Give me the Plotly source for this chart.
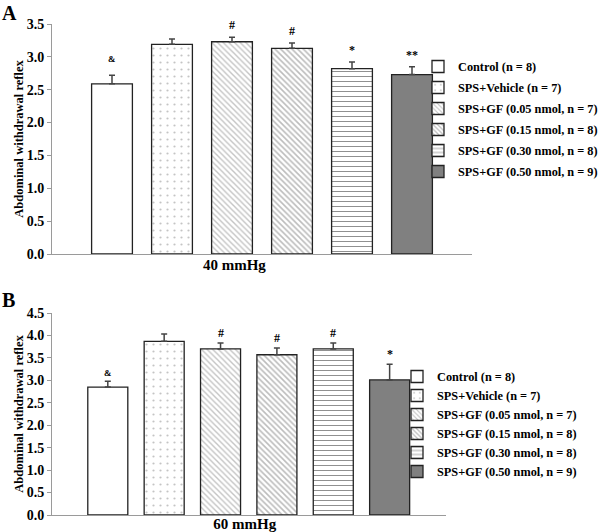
import plotly.graph_objects as go

groups = ["Control (n = 8)", "SPS+Vehicle (n = 7)", "SPS+GF (0.05 nmol, n = 7)",
          "SPS+GF (0.15 nmol, n = 8)", "SPS+GF (0.30 nmol, n = 8)", "SPS+GF (0.50 nmol, n = 9)"]
mean_40 = [2.59, 3.19, 3.23, 3.13, 2.82, 2.73]
sem_40 = [0.13, 0.08, 0.07, 0.08, 0.10, 0.12]
sig_40 = ["&", "", "#", "#", "*", "**"]
mean_60 = [2.85, 3.87, 3.70, 3.57, 3.70, 3.01]
sem_60 = [0.13, 0.16, 0.13, 0.15, 0.13, 0.35]
sig_60 = ["&", "", "#", "#", "#", "*"]
ytick_40 = [0, 0.5, 1.0, 1.5, 2.0, 2.5, 3.0, 3.5]
ytick_60 = [0, 0.5, 1.0, 1.5, 2.0, 2.5, 3.0, 3.5, 4.0, 4.5]
pressure_labels = ["40 mmHg", "60 mmHg"]

FONT = "Liberation Serif"
styles = [
    dict(color="white", pattern=dict(shape="")),
    dict(color="white", pattern=dict(shape=".", fgcolor="#8a8a8a", size=7, solidity=0.08)),
    dict(color="white", pattern=dict(shape="\\", fgcolor="#8a8a8a", size=4, solidity=0.35)),
    dict(color="white", pattern=dict(shape="\\", fgcolor="#7a7a7a", size=4, solidity=0.4)),
    dict(color="white", pattern=dict(shape="-", fgcolor="#222222", size=5, solidity=0.2)),
    dict(color="#808080", pattern=dict(shape="")),
]

fig = go.Figure()
for panel, (means, sems, sigs, ax, leg, w, ysh) in enumerate([
        (mean_40, sem_40, sig_40, ("x", "y"), "legend", 0.68, 3),
        (mean_60, sem_60, sig_60, ("x2", "y2"), "legend2", 0.71, 1)]):
    for i, g in enumerate(groups):
        fig.add_trace(go.Bar(
            x=[i], y=[means[i]], width=w, name=g, xaxis=ax[0], yaxis=ax[1],
            legend=leg, legendgroup=f"{leg}{i}",
            marker=dict(color=styles[i]["color"], pattern=styles[i]["pattern"],
                        line=dict(color="#222222", width=1.3)),
            error_y=dict(type="data", array=[sems[i]], arrayminus=[0], symmetric=False,
                         color="#444444", thickness=1.5, width=3),
        ))
        if sigs[i]:
            fig.add_annotation(x=i, y=means[i] + sems[i], xref=ax[0], yref=ax[1],
                               text=sigs[i], showarrow=False, yanchor="bottom",
                               yshift=ysh + (6 if (sigs[i] == "&" and panel == 0) else 0),
                               font=dict(family=FONT, size=12 if sigs[i] != "&" else 9,
                                         color="black"))

xaxis_common = dict(showline=True, linecolor="#9a9a9a", linewidth=1, zeroline=False,
                    showgrid=False, ticks="", ticklen=0, automargin=False,
                    tickfont=dict(family=FONT, size=15, color="black", weight="bold"))
yaxis_common = dict(showline=True, linecolor="#9a9a9a", linewidth=1, showgrid=False, zeroline=False,
                    ticks="outside", ticklen=4, tickcolor="#9a9a9a", tickformat=".1f", automargin=False,
                    tickfont=dict(family=FONT, size=14, color="black", weight="bold"),
                    title=dict(text="Abdominal withdrawal reflex", standoff=0,
                               font=dict(family=FONT, size=12.5, color="black", weight="bold")))
legend_font = dict(family=FONT, size=12.3, color="black", weight="bold")
fig.update_layout(
    width=600, height=532, margin=dict(l=0, r=0, t=0, b=0, autoexpand=False),
    plot_bgcolor="white", paper_bgcolor="white",
    font=dict(family=FONT, color="black", weight="bold"),
    barmode="overlay",
    xaxis=dict(domain=[52/600, 472/600], range=[-1.0, 6.0], anchor="y", ticklabelstandoff=-3,
               tickvals=[2.04], ticktext=[pressure_labels[0]], **xaxis_common),
    yaxis=dict(domain=[1-254/532, 1-24/532], range=[0, 3.5], anchor="x",
               tickvals=ytick_40, **yaxis_common),
    xaxis2=dict(domain=[52/600, 446/600], range=[-0.99, 6.0], anchor="y2", ticklabelstandoff=-5,
                tickvals=[2.43], ticktext=[pressure_labels[1]], **xaxis_common),
    yaxis2=dict(domain=[1-515/532, 1-313/532], range=[0, 4.5], anchor="x2",
                tickvals=ytick_60, **yaxis_common),
    legend=dict(x=418/600, y=1-52/532, xanchor="left", yanchor="top",
                traceorder="grouped", tracegroupgap=2, itemwidth=30,
                font=legend_font, bgcolor="rgba(0,0,0,0)"),
    legend2=dict(x=397/600, y=1-362/532, xanchor="left", yanchor="top",
                 traceorder="grouped", tracegroupgap=0, itemwidth=30,
                 font=legend_font, bgcolor="rgba(0,0,0,0)"),
    showlegend=True,
)
fig.add_annotation(x=0, y=1-13/532, xref="paper", yref="paper", text="A", showarrow=False,
                   xanchor="left", yanchor="middle", font=dict(family=FONT, size=20, weight="bold", color="black"))
fig.add_annotation(x=0, y=1-300/532, xref="paper", yref="paper", text="B", showarrow=False,
                   xanchor="left", yanchor="middle", font=dict(family=FONT, size=20, weight="bold", color="black"))

fig.write_html("out.html", config={"displayModeBar": False},
               post_script="document.body.style.margin='0px';")
